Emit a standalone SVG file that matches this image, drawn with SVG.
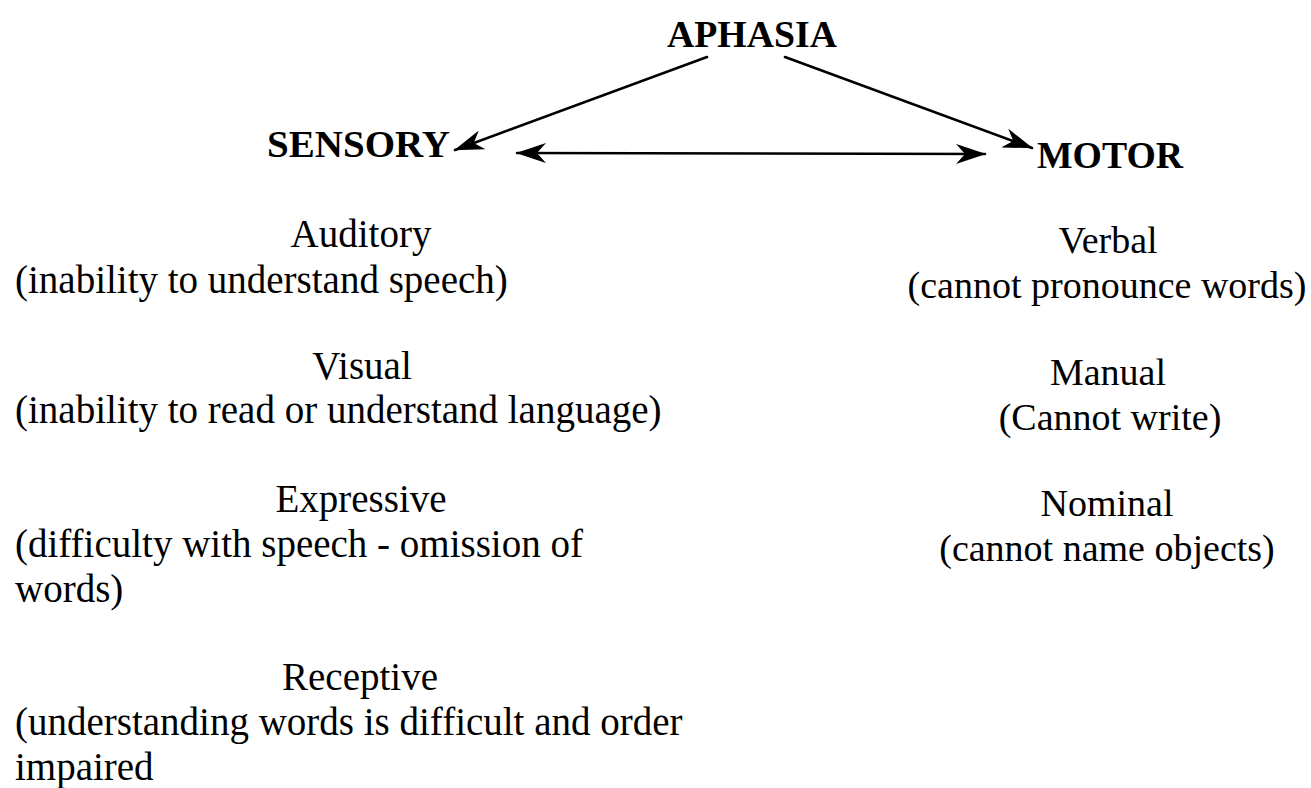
<svg xmlns="http://www.w3.org/2000/svg" width="1311" height="788" viewBox="0 0 1311 788">
  <style>
    .head { font-family: "Liberation Serif", "Times New Roman", serif; font-weight: bold; font-size: 37px; fill: #000; }
    .body { font-family: "Liberation Serif", "Times New Roman", serif; font-size: 39px; fill: #000; }
    .bodyR { font-family: "Liberation Serif", "Times New Roman", serif; font-size: 38px; fill: #000; }
    .mid { text-anchor: middle; }
    .edge { fill: none; stroke: #000; stroke-width: 2.6; stroke-linecap: round; }
  </style>
  <defs>
    <marker id="head" viewBox="0 0 30 20" refX="29" refY="10" markerWidth="30" markerHeight="20" markerUnits="userSpaceOnUse" orient="auto-start-reverse">
      <path d="M30,10 L0,0 L9,10 L0,20 Z" fill="#000"/>
    </marker>
  </defs>

  <rect x="0" y="0" width="1311" height="788" fill="#fff"/>

  <!-- connectors -->
  <g id="connectors">
    <path class="edge" d="M707,57 L455,150" marker-end="url(#head)"/>
    <path class="edge" d="M785,57 L1032,148" marker-end="url(#head)"/>
    <path class="edge" d="M517,153 L985,154" marker-start="url(#head)" marker-end="url(#head)"/>
  </g>

  <!-- root -->
  <g id="aphasia">
    <text class="head" x="667" y="47" textLength="170" lengthAdjust="spacingAndGlyphs">APHASIA</text>
  </g>

  <!-- sensory branch -->
  <g id="sensory">
    <text class="head" x="267" y="157" textLength="183" lengthAdjust="spacingAndGlyphs">SENSORY</text>
  </g>
  <g id="sensory-auditory">
    <text class="body mid" x="361" y="247">Auditory</text>
    <text class="body" x="15" y="293">(inability to understand speech)</text>
  </g>
  <g id="sensory-visual">
    <text class="body mid" x="362" y="379">Visual</text>
    <text class="body" x="15" y="423">(inability to read or understand language)</text>
  </g>
  <g id="sensory-expressive">
    <text class="body mid" x="361" y="512">Expressive</text>
    <text class="body" x="15" y="557">(difficulty with speech - omission of</text>
    <text class="body" x="15" y="602">words)</text>
  </g>
  <g id="sensory-receptive">
    <text class="body mid" x="360" y="690">Receptive</text>
    <text class="body" x="15" y="735">(understanding words is difficult and order</text>
    <text class="body" x="15" y="780">impaired</text>
  </g>

  <!-- motor branch -->
  <g id="motor">
    <text class="head" x="1037" y="168" textLength="146" lengthAdjust="spacingAndGlyphs">MOTOR</text>
  </g>
  <g id="motor-verbal">
    <text class="bodyR mid" x="1108" y="253">Verbal</text>
    <text class="bodyR mid" x="1107" y="298">(cannot pronounce words)</text>
  </g>
  <g id="motor-manual">
    <text class="bodyR mid" x="1108" y="385">Manual</text>
    <text class="bodyR mid" x="1110" y="430">(Cannot write)</text>
  </g>
  <g id="motor-nominal">
    <text class="bodyR mid" x="1107" y="516">Nominal</text>
    <text class="bodyR mid" x="1107" y="561">(cannot name objects)</text>
  </g>
</svg>
